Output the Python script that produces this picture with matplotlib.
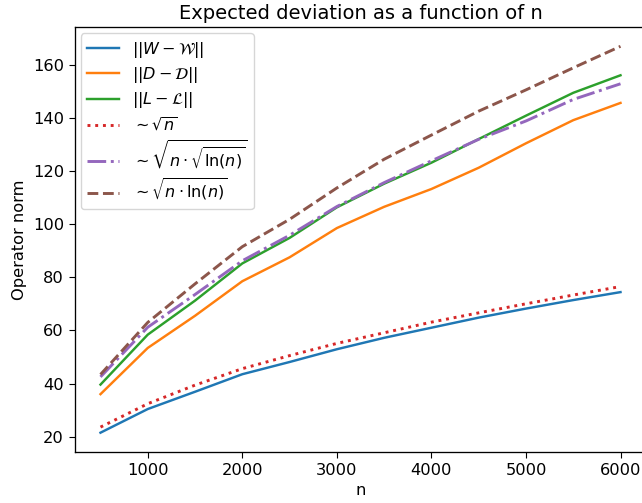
import matplotlib
matplotlib.use('Agg')
import matplotlib.pyplot as plt

# sample sizes
n_values = [500, 1000, 1500, 2000, 2500, 3000, 3500, 4000, 4500, 5000, 5500, 6000]

dev_W = [21.5, 30.4, 36.9, 43.5, 48.1, 52.9, 57.2, 61.0, 64.8, 68.2, 71.4, 74.4]
dev_D = [36.0, 53.4, 65.5, 78.5, 87.5, 98.5, 106.5, 113.2, 121.2, 130.4, 139.1, 145.6]
dev_L = [39.6, 58.4, 71.2, 85.2, 94.8, 106.3, 115.2, 123.1, 132.0, 140.8, 149.4, 156.0]

# reference curves
ref_sqrt = [23.6, 32.4, 39.4, 45.6, 50.5, 55.1, 59.1, 63.1, 66.6, 70.0, 73.3, 76.5]
ref_sqrt_sqrtln = [42.5, 61.2, 73.5, 86.2, 95.8, 106.6, 115.6, 123.8, 131.9, 138.8, 146.9, 152.8]
ref_sqrt_ln = [43.4, 63.0, 77.5, 91.5, 101.8, 113.6, 124.4, 133.5, 142.5, 150.5, 158.8, 166.9]

labels = [
    r'$||W - \mathcal{W}||$',
    r'$||D - \mathcal{D}||$',
    r'$||L - \mathcal{L}||$',
    r'$\sim\sqrt{n}$',
    r'$\sim\sqrt{n\cdot\sqrt{\ln(n)}}$',
    r'$\sim\sqrt{n\cdot\ln(n)}$',
]

# the reference looks like a default plot rendered ~1.17x larger
plt.rcParams['xtick.labelsize'] = 11.7
plt.rcParams['ytick.labelsize'] = 11.7
plt.rcParams['xtick.major.size'] = 4.1
plt.rcParams['ytick.major.size'] = 4.1
plt.rcParams['axes.linewidth'] = 0.95

fig = plt.figure(figsize=(6.42, 5.03), dpi=100)
ax = fig.add_axes([74.5 / 642, 51 / 503, 572 / 642, 425 / 503])

lw = 1.75
ax.plot(n_values, dev_W, color='tab:blue', linewidth=lw, label=labels[0])
ax.plot(n_values, dev_D, color='tab:orange', linewidth=lw, label=labels[1])
ax.plot(n_values, dev_L, color='tab:green', linewidth=lw, label=labels[2])
ax.plot(n_values, ref_sqrt, color='tab:red', linestyle=':', linewidth=2.1, label=labels[3])
ax.plot(n_values, ref_sqrt_sqrtln, color='tab:purple', linestyle='-.', linewidth=2.1, label=labels[4])
ax.plot(n_values, ref_sqrt_ln, color='tab:brown', linestyle='--', linewidth=2.1, label=labels[5])

ax.set_title('Expected deviation as a function of n', fontsize=14)
ax.set_xlabel('n', fontsize=11.7)
ax.set_ylabel('Operator norm', fontsize=11.7)
ax.set_yticks([20, 40, 60, 80, 100, 120, 140, 160])
ax.legend(loc='upper left', fontsize=11.5, labelspacing=0.33, borderaxespad=0.4)

fig.savefig('out.png', dpi=100)
